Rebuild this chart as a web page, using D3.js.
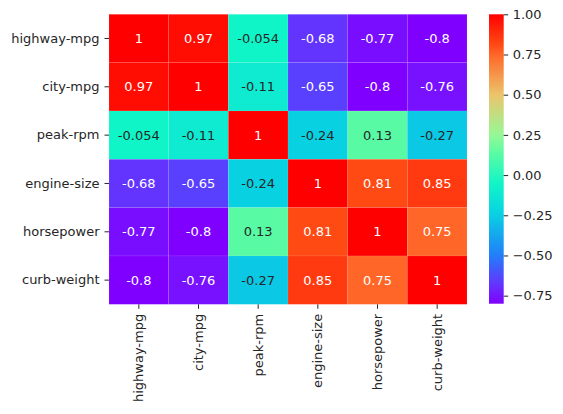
<!DOCTYPE html>
<html lang="en">
<head>
<meta charset="utf-8">
<title>Correlation heatmap</title>
<script src="https://d3js.org/d3.v7.min.js"></script>
<style>
  body { margin: 0; background: #fff; }
  svg text { font-family: "DejaVu Sans", sans-serif; }
</style>
</head>
<body>
<svg width="563" height="414" id="svg"></svg>
<script>
// variables (same order for rows and columns)
var labels = ["highway-mpg", "city-mpg", "peak-rpm", "engine-size", "horsepower", "curb-weight"];

// correlation rows
var highwayMpg = [1, 0.97, -0.054, -0.68, -0.77, -0.8];
var cityMpg    = [0.97, 1, -0.11, -0.65, -0.8, -0.76];
var peakRpm    = [-0.054, -0.11, 1, -0.24, 0.13, -0.27];
var engineSize = [-0.68, -0.65, -0.24, 1, 0.81, 0.85];
var horsepower = [-0.77, -0.8, 0.13, 0.81, 1, 0.75];
var curbWeight = [-0.8, -0.76, -0.27, 0.85, 0.75, 1];

var colorbarTicks = [-0.75, -0.5, -0.25, 0, 0.25, 0.5, 0.75, 1];

var rows = [highwayMpg, cityMpg, peakRpm, engineSize, horsepower, curbWeight];

// flatten into cells
var cells = [];
rows.forEach(function(r, i) {
  r.forEach(function(v, j) {
    cells.push({row: labels[i], col: labels[j], val: v});
  });
});

var vmin = d3.min(cells, function(d) { return d.val; });
var vmax = d3.max(cells, function(d) { return d.val; });

// rainbow-like colormap, stops picked off the picture's colorbar (position 0..1)
var cmapPos = [0, 0.067, 0.167, 0.311, 0.414, 0.517, 0.583, 0.722, 0.861, 0.894, 1];
var cmapCol = ["#8000ff", "#6434ff", "#227ef9", "#08d2e2", "#10f5c8", "#58fba4",
               "#96f896", "#ecc46c", "#ff6628", "#ff4a14", "#ff0000"];
var cmap = d3.scaleLinear().domain(cmapPos).range(cmapCol).interpolate(d3.interpolateRgb).clamp(true);

var norm = d3.scaleLinear().domain([vmin, vmax]).range([0, 1]);
function colorOf(v) { return cmap(norm(v)); }

// seaborn-style text colour choice
function luminance(css) {
  var c = d3.rgb(css);
  var lin = [c.r, c.g, c.b].map(function(x) {
    x = x / 255;
    return x <= 0.03928 ? x / 12.92 : Math.pow((x + 0.055) / 1.055, 2.4);
  });
  return 0.2126 * lin[0] + 0.7152 * lin[1] + 0.0722 * lin[2];
}

var svg = d3.select("#svg");
var mLeft = 109, mRight = 467, mTop = 14.3, mBottom = 304.3;

var x = d3.scaleBand().domain(labels).range([mLeft, mRight]);
var y = d3.scaleBand().domain(labels).range([mTop, mBottom]);

svg.append("g").selectAll("rect")
  .data(cells)
  .enter().append("rect")
  .attr("x", function(d) { return x(d.col); })
  .attr("y", function(d) { return y(d.row); })
  .attr("width", x.bandwidth())
  .attr("height", y.bandwidth())
  .attr("fill", function(d) { return colorOf(d.val); })
  .attr("stroke", "#ffffff")
  .attr("stroke-opacity", 0.12)
  .attr("stroke-width", 0.6);

svg.append("g").selectAll("text")
  .data(cells)
  .enter().append("text")
  .attr("x", function(d) { return x(d.col) + x.bandwidth() / 2; })
  .attr("y", function(d) { return y(d.row) + y.bandwidth() / 2; })
  .attr("text-anchor", "middle")
  .attr("dominant-baseline", "central")
  .attr("font-size", "13px")
  .attr("fill", function(d) { return luminance(colorOf(d.val)) > 0.408 ? "#262626" : "#ffffff"; })
  .text(function(d) { return String(d.val); });

// axes
var yAxis = svg.append("g")
  .attr("transform", "translate(" + mLeft + ",0)")
  .call(d3.axisLeft(y).tickSize(4.5).tickPadding(5));
var xAxis = svg.append("g")
  .attr("transform", "translate(0," + mBottom + ")")
  .call(d3.axisBottom(x).tickSize(4.5).tickPadding(5));

[xAxis, yAxis].forEach(function(a) {
  a.select(".domain").remove();
  a.selectAll(".tick line").attr("stroke", "#262626").attr("stroke-width", 1);
  a.selectAll(".tick text").attr("font-size", "13px").attr("fill", "#262626")
    .attr("font-family", "DejaVu Sans");
});

xAxis.selectAll(".tick text")
  .attr("transform", "rotate(-90)")
  .attr("text-anchor", "end")
  .attr("x", -9.5)
  .attr("y", 0)
  .attr("dy", "0.35em");

// colorbar
var cbLeft = 489, cbWidth = 14.7;
var cb = d3.scaleLinear().domain([vmin, vmax]).range([303.7, 14.3]);

var grad = svg.append("defs").append("linearGradient")
  .attr("id", "cbgrad")
  .attr("x1", "0").attr("y1", "1").attr("x2", "0").attr("y2", "0");
grad.selectAll("stop")
  .data(d3.range(0, 1.0001, 0.02))
  .enter().append("stop")
  .attr("offset", function(t) { return t; })
  .attr("stop-color", function(t) { return cmap(t); });

svg.append("rect")
  .attr("x", cbLeft)
  .attr("y", cb(vmax))
  .attr("width", cbWidth)
  .attr("height", cb(vmin) - cb(vmax))
  .attr("fill", "url(#cbgrad)");

var cbAxis = svg.append("g")
  .attr("transform", "translate(" + (cbLeft + cbWidth) + ",0)")
  .call(d3.axisRight(cb).tickValues(colorbarTicks).tickFormat(d3.format(".2f")).tickSize(4.5).tickPadding(4.5));
cbAxis.select(".domain").remove();
cbAxis.selectAll(".tick line").attr("stroke", "#262626");
cbAxis.selectAll(".tick text").attr("font-size", "13px").attr("fill", "#262626")
  .attr("font-family", "DejaVu Sans");
</script>
</body>
</html>
